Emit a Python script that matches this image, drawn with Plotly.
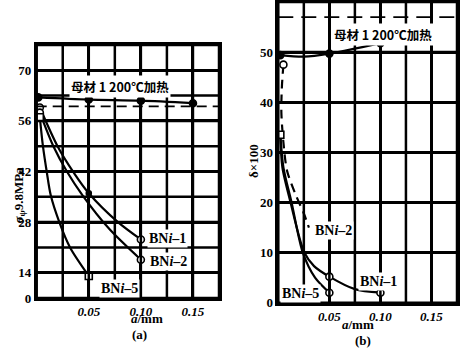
import plotly.graph_objects as go

# ---------- panel (a) ----------
A_BASE_X = [0.0015, 0.05, 0.10, 0.15]
A_BASE_Y = [62.5, 61.9, 61.6, 60.9]
A_REF = 60
A_BNI1_X = [0.003, 0.02, 0.036, 0.05, 0.078, 0.10]
A_BNI1_Y = [59.7, 49, 41.5, 36, 28, 23.2]
A_BNI2_X = [0.003, 0.016, 0.029, 0.044, 0.07, 0.10]
A_BNI2_Y = [58.3, 49, 42, 35.4, 26, 17.6]
A_BNI5_X = [0.003, 0.006, 0.0096, 0.0135, 0.0217, 0.032, 0.05]
A_BNI5_Y = [57, 49, 42, 35.4, 28, 21, 13.1]
A_YTICKS = [7, 14, 28, 42, 56, 70]
A_YTEXT = ["0", "14", "28", "42", "56", "70"]
A_YGRID = [14, 21, 28, 35, 42, 49, 56, 63, 70]
XTICKS = [0.05, 0.10, 0.15]
XTEXT = ["0.05", "0.10", "0.15"]
XGRID = [0.025, 0.05, 0.075, 0.10, 0.125, 0.15]

# ---------- panel (b) ----------
B_BASE_X = [0.002, 0.025, 0.05, 0.10]
B_BASE_Y = [49.4, 49.1, 49.7, 51.8]
B_REF = 57
B_BNI2_X = [0.005, 0.0035, 0.003, 0.005, 0.0085, 0.0167, 0.025, 0.03]
B_BNI2_Y = [47.5, 43, 38, 32, 26.4, 21.7, 17.8, 15]
B_BNI1_X = [0.002, 0.004, 0.012, 0.0255, 0.035, 0.05, 0.075, 0.10]
B_BNI1_Y = [33.5, 27, 20, 10, 7.3, 5.2, 2.7, 2]
B_BNI5_X = [0.002, 0.005, 0.013, 0.024, 0.036, 0.05]
B_BNI5_Y = [33.5, 27, 20, 10, 5, 2]
B_YTICKS = [0, 10, 20, 30, 40, 50, 60]
B_YGRID = [10, 20, 30, 40, 50]

SERIF = "Liberation Serif"
CJK = "Noto Sans CJK SC"
LW = 2.2
W, H = 460, 363

fig = go.Figure()


def curve(x, y, xa, ya, dash="solid"):
    fig.add_trace(go.Scatter(x=x, y=y, xaxis=xa, yaxis=ya, mode="lines",
                             line=dict(color="black", width=LW, dash=dash,
                                       shape="spline", smoothing=0.8),
                             showlegend=False, hoverinfo="skip"))


def marks(x, y, idx, xa, ya, symbol, size=7, fill="white"):
    fig.add_trace(go.Scatter(x=[x[i] for i in idx], y=[y[i] for i in idx],
                             xaxis=xa, yaxis=ya, mode="markers",
                             marker=dict(symbol=symbol, size=size, color=fill,
                                         line=dict(color="black", width=1.6)),
                             showlegend=False, hoverinfo="skip"))


# panel (a)
curve(A_BASE_X, A_BASE_Y, "x", "y")
curve(A_BNI1_X, A_BNI1_Y, "x", "y")
curve(A_BNI2_X, A_BNI2_Y, "x", "y")
curve(A_BNI5_X, A_BNI5_Y, "x", "y")

# panel (b)
curve(B_BASE_X, B_BASE_Y, "x2", "y2")
curve(B_BNI2_X, B_BNI2_Y, "x2", "y2", dash="9px,6px")
curve(B_BNI1_X, B_BNI1_Y, "x2", "y2")
curve(B_BNI5_X, B_BNI5_Y, "x2", "y2")

# grid lines and frames as shapes
GRID = dict(color="black", width=2.5, dash="solid")
for xa, ya, ygrid in (("x", "y", A_YGRID), ("x2", "y2", B_YGRID)):
    for gx in XGRID:
        fig.add_shape(type="line", xref=xa, yref=ya + " domain", x0=gx, x1=gx, y0=0, y1=1, line=GRID)
    for gy in ygrid:
        fig.add_shape(type="line", xref=xa + " domain", yref=ya, x0=0, x1=1, y0=gy, y1=gy, line=GRID)
    fig.add_shape(type="rect", xref=xa + " domain", yref=ya + " domain", x0=0, x1=1, y0=0, y1=1,
                  line=dict(color="black", width=2.5, dash="solid"), fillcolor="rgba(0,0,0,0)")

fig.add_shape(type="line", xref="x domain", yref="y", x0=0, x1=1, y0=A_REF, y1=A_REF,
              line=dict(color="black", width=1.8, dash="10px,6px"))
fig.add_shape(type="line", xref="x2 domain", yref="y2", x0=0, x1=1, y0=B_REF, y1=B_REF,
              line=dict(color="black", width=1.8, dash="15px,8px"))

# markers drawn after so that they sit on the lines
marks(A_BASE_X, A_BASE_Y, [0, 1, 2, 3], "x", "y", "circle", 7, "black")
marks(A_BNI1_X, A_BNI1_Y, [0, 5], "x", "y", "circle")
marks(A_BNI1_X, A_BNI1_Y, [3], "x", "y", "circle", 5, "black")
marks(A_BNI2_X, A_BNI2_Y, [0, 5], "x", "y", "circle")
marks(A_BNI5_X, A_BNI5_Y, [0, 6], "x", "y", "square")
marks(B_BASE_X, B_BASE_Y, [0, 2, 3], "x2", "y2", "circle", 7, "black")
marks(B_BNI2_X, B_BNI2_Y, [0], "x2", "y2", "circle")
marks(B_BNI1_X, B_BNI1_Y, [0], "x2", "y2", "square")
marks(B_BNI1_X, B_BNI1_Y, [5, 7], "x2", "y2", "circle")
marks(B_BNI5_X, B_BNI5_Y, [5], "x2", "y2", "circle")

tickfont = dict(family=SERIF, size=13, color="black")
common = dict(showline=True, mirror=True, linecolor="#000000", linewidth=2.5,
              showgrid=True, gridcolor="#000000", gridwidth=2.5, zeroline=False, ticks="",
              tickmode="array", automargin=False, fixedrange=True, tickfont=tickfont)
bx = ["<b><i>%s</i></b>" % t for t in XTEXT]

fig.update_layout(
    template="none",
    width=W, height=H,
    margin=dict(l=0, r=0, t=0, b=0, autoexpand=False),
    paper_bgcolor="white", plot_bgcolor="white",
    showlegend=False,
    xaxis=dict(domain=[36.7 / W, 219 / W], range=[0, 0.175], anchor="y",
               tickvals=XTICKS, ticktext=bx, **common),
    yaxis=dict(domain=[(H - 298) / H, (H - 45) / H], range=[7, 77], anchor="x",
               tickvals=A_YTICKS, ticktext=["<b>%s</b>" % t for t in A_YTEXT], **common),
    xaxis2=dict(domain=[278.3 / W, 457 / W], range=[0, 0.175], anchor="y2",
                tickvals=XTICKS, ticktext=bx, **common),
    yaxis2=dict(domain=[(H - 302.7) / H, (H - 2) / H], range=[0, 60], anchor="x2",
                tickvals=B_YTICKS, ticktext=["<b>%d</b>" % v for v in B_YTICKS], **common),
)

ann = []
lab = dict(family=SERIF, size=14, color="black")
cjk = dict(family=CJK, size=12.5, color="black")
# panel (a) texts
ann.append(dict(x=0.08, y=65.6, xref="x", yref="y", text="<b>母材 1 200℃加热</b>", font=cjk, showarrow=False, bgcolor="white"))
ann.append(dict(x=0.106, y=23.4, xref="x", yref="y", text="<b>BN<i>i</i>–1</b>", font=lab, showarrow=False, xanchor="left", bgcolor="white"))
ann.append(dict(x=0.107, y=17.2, xref="x", yref="y", text="<b>BN<i>i</i>–2</b>", font=lab, showarrow=False, xanchor="left", bgcolor="white"))
ann.append(dict(x=0.0795, y=9.7, xref="x", yref="y", text="<b>BN<i>i</i>–5</b>", font=lab, showarrow=False, bgcolor="white"))
# panel (b) texts
ann.append(dict(x=0.103, y=53.6, xref="x2", yref="y2", text="<b>母材 1 200℃加热</b>", font=cjk, showarrow=False, bgcolor="white"))
ann.append(dict(x=0.034, y=14.4, xref="x2", yref="y2", text="<b>BN<i>i</i>–2</b>", font=lab, showarrow=False, xanchor="left", bgcolor="white"))
ann.append(dict(x=0.078, y=4.2, xref="x2", yref="y2", text="<b>BN<i>i</i>–1</b>", font=lab, showarrow=False, xanchor="left", bgcolor="white"))
ann.append(dict(x=0.002, y=1.9, xref="x2", yref="y2", text="<b>BN<i>i</i>–5</b>", font=lab, showarrow=False, xanchor="left", bgcolor="white"))
# axis titles
ttl = dict(family=SERIF, size=13, color="black")
ann.append(dict(x=129 / W, y=(H - 328) / H, xref="paper", yref="paper", text="<b><i>a</i>/mm</b>", font=ttl, showarrow=False))
ann.append(dict(x=376 / W, y=(H - 334) / H, xref="paper", yref="paper", text="<b><i>a</i>/mm</b>", font=ttl, showarrow=False))
ann.append(dict(x=130 / W, y=(H - 344) / H, xref="paper", yref="paper", text="<b>(a)</b>", font=ttl, showarrow=False))
ann.append(dict(x=373 / W, y=(H - 350) / H, xref="paper", yref="paper", text="<b>(b)</b>", font=ttl, showarrow=False))
ann.append(dict(x=8 / W, y=(H - 195) / H, xref="paper", yref="paper", text="<b>σ<sub>ψ</sub>9.8MPa</b>",
                font=ttl, showarrow=False, textangle=-90))
ann.append(dict(x=253 / W, y=(H - 161) / H, xref="paper", yref="paper", text="<b>δ×100</b>",
                font=ttl, showarrow=False, textangle=-90))
fig.update_layout(annotations=ann)

fig.write_html("out.html",
               config={"displayModeBar": False},
               post_script="document.body.style.margin='0px';document.body.style.overflow='hidden';")
